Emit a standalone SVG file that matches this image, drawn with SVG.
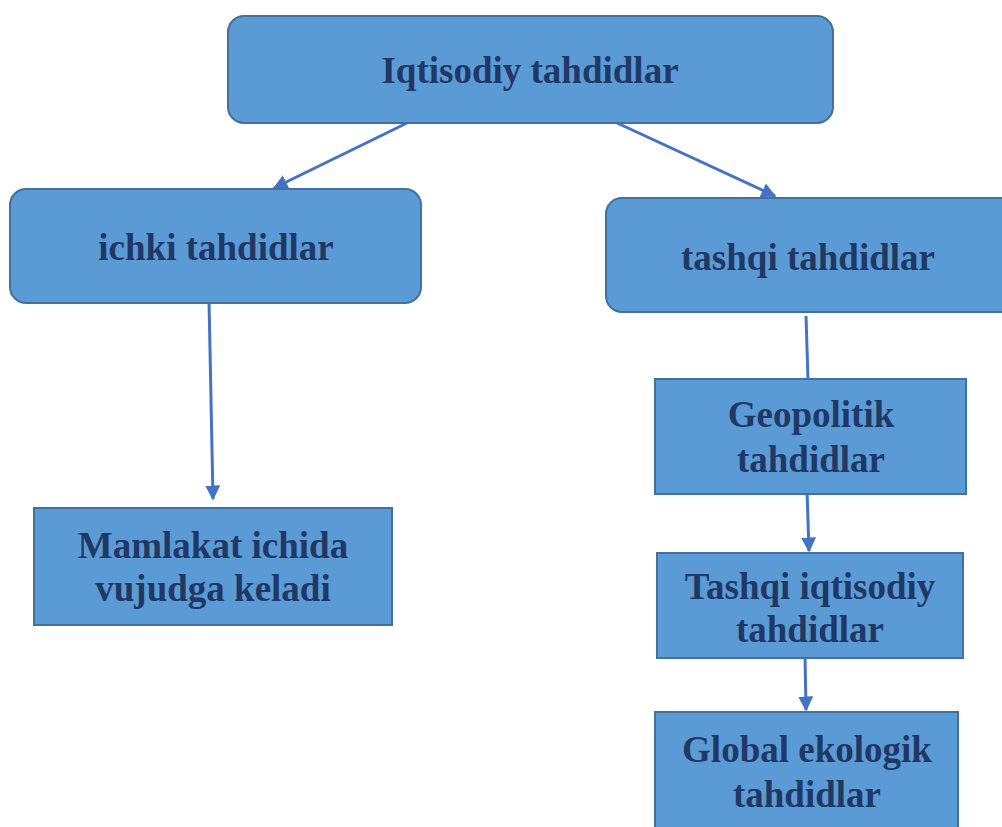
<svg xmlns="http://www.w3.org/2000/svg" width="1002" height="827" viewBox="0 0 1002 827">
<defs>
<style>
.box{fill:#5B9BD5;stroke:#41719C;stroke-width:2}
.t{font-family:"Liberation Serif","Times New Roman",serif;font-weight:bold;font-size:37px;fill:#203864;text-anchor:middle}
.c{stroke:#4472C4;stroke-width:3;fill:none}
</style>
<marker id="ah" viewBox="0 0 10 10" refX="9" refY="5" markerWidth="5" markerHeight="5" orient="auto" markerUnits="strokeWidth">
<path d="M0,0 L10,5 L0,10 z" fill="#4472C4"/>
</marker>
</defs>
<rect width="1002" height="827" fill="#ffffff"/>
<g id="connectors">
<line class="c" x1="407" y1="123" x2="274" y2="188" marker-end="url(#ah)"/>
<line class="c" x1="615" y1="122" x2="775" y2="196" marker-end="url(#ah)"/>
<line class="c" x1="209" y1="300" x2="213" y2="499" marker-end="url(#ah)"/>
<line class="c" x1="806" y1="316" x2="808" y2="380"/>
<line class="c" x1="807" y1="490" x2="809" y2="551" marker-end="url(#ah)"/>
<line class="c" x1="805" y1="655" x2="806" y2="710" marker-end="url(#ah)"/>
</g>
<g id="n-iqtisodiy">
<rect class="box" x="228" y="16" width="605" height="107" rx="16"/>
<text class="t" x="530" y="83">Iqtisodiy tahdidlar</text>
</g>
<g id="n-ichki">
<rect class="box" x="10" y="189" width="411" height="114" rx="16"/>
<text class="t" x="216" y="260">ichki tahdidlar</text>
</g>
<g id="n-tashqi">
<rect class="box" x="606" y="198" width="410" height="114" rx="16"/>
<text class="t" x="808" y="270">tashqi tahdidlar</text>
</g>
<g id="n-mamlakat">
<rect class="box" x="34" y="508" width="358" height="117"/>
<text class="t" x="213" y="558">Mamlakat ichida</text>
<text class="t" x="213" y="601">vujudga keladi</text>
</g>
<g id="n-geopolitik">
<rect class="box" x="655" y="379" width="311" height="115"/>
<text class="t" x="811" y="427">Geopolitik</text>
<text class="t" x="811" y="472">tahdidlar</text>
</g>
<g id="n-tashqi-iqtisodiy">
<rect class="box" x="657" y="553" width="306" height="105"/>
<text class="t" x="810" y="599">Tashqi iqtisodiy</text>
<text class="t" x="810" y="642">tahdidlar</text>
</g>
<g id="n-global">
<rect class="box" x="655" y="712" width="303" height="125"/>
<text class="t" x="807" y="762">Global ekologik</text>
<text class="t" x="807" y="807">tahdidlar</text>
</g>
</svg>
